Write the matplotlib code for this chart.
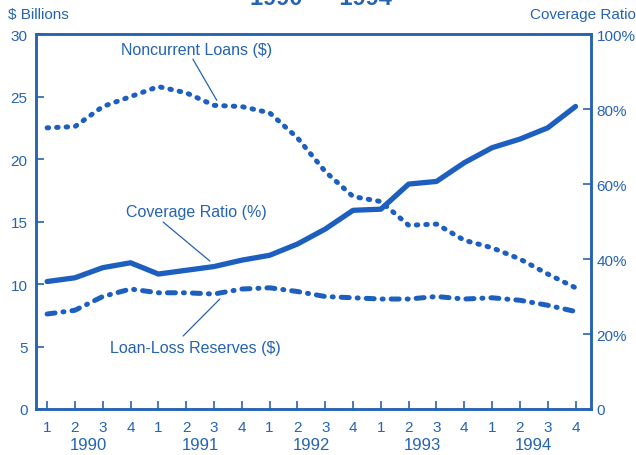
import matplotlib.pyplot as plt
import numpy as np

plt.rcParams['font.family'] = ['Liberation Sans', 'DejaVu Sans']

blue = '#2563b3'
line_blue = '#1d5fbf'

# quarters 1990 Q1 .. 1994 Q4
quarters = ['1', '2', '3', '4'] * 5
years = ['1990', '1991', '1992', '1993', '1994']

noncurrent = [22.5, 22.6, 24.2, 25.0, 25.8, 25.3, 24.3, 24.2, 23.7, 21.7,
              19.0, 17.0, 16.6, 14.7, 14.8, 13.5, 12.9, 12.0, 10.8, 9.7]
reserves = [7.6, 7.9, 9.0, 9.6, 9.3, 9.3, 9.2, 9.6, 9.7, 9.4,
            9.0, 8.9, 8.8, 8.8, 9.0, 8.8, 8.9, 8.7, 8.3, 7.8]
coverage = [34.0, 35.0, 37.7, 39.0, 36.0, 37.0, 38.0, 39.7, 41.0, 44.0,
            48.0, 53.0, 53.3, 60.0, 60.7, 65.7, 69.7, 72.0, 75.0, 80.7]

x = np.arange(1, len(quarters) + 1)

fig = plt.figure(figsize=(6.36, 4.56), dpi=100)
ax = fig.add_axes([0.0566, 0.1009, 0.8724, 0.8221])
ax2 = ax.twinx()

ax.plot(x, noncurrent, color=line_blue, lw=3.6, linestyle=(0, (0.3, 1.6)),
        dash_capstyle='round', solid_capstyle='round')
ax.plot(x, reserves, color=line_blue, lw=3.6, linestyle=(0, (1.6, 1.6, 0.2, 1.6)),
        dash_capstyle='round')
ax2.plot(x, coverage, color=line_blue, lw=3.8, solid_capstyle='round')

ax.set_xlim(0.6, 20.55)
ax.set_ylim(0, 30)
ax2.set_ylim(0, 100)

ax.set_yticks(range(0, 31, 5))
ax2.set_yticks(range(0, 101, 20))
ax2.set_yticklabels(['0', '20%', '40%', '60%', '80%', '100%'])
ax.set_xticks(x)
ax.set_xticklabels(quarters)

for a in (ax, ax2):
    for s in a.spines.values():
        s.set_color(blue)
        s.set_linewidth(1.8)
    a.tick_params(colors=blue, labelcolor=blue, labelsize=11, direction='in',
                  length=6, width=1.2)
ax.tick_params(axis='x', pad=8)
ax.tick_params(axis='y', pad=6)
ax2.tick_params(axis='y', pad=4)

for i, yr in enumerate(years):
    ax.text(2.5 + 4 * i, -0.074, yr, transform=ax.get_xaxis_transform(),
            ha='center', va='top', color=blue, fontsize=12)

fig.text(8 / 636, 1 - 15 / 456, '$ Billions', color=blue, fontsize=11,
         ha='left', va='center')
fig.text(1.0, 1 - 15 / 456, 'Coverage Ratio', color=blue, fontsize=11,
         ha='right', va='center')
fig.text(0.505, 1 - 5 / 456, '1990 — 1994', color=blue, fontsize=17,
         fontweight='bold', ha='center', va='baseline')

arrow = dict(arrowstyle='-', color=blue, lw=0.9, shrinkA=0, shrinkB=0)
ax.text(6.39, 28.8, 'Noncurrent Loans ($)', ha='center', va='center',
        color=blue, fontsize=11.5)
ax.annotate('', xy=(7.1, 24.7), xytext=(6.24, 28.0), arrowprops=arrow)
ax.text(6.35, 15.84, 'Coverage Ratio (%)', ha='center', va='center',
        color=blue, fontsize=11.5)
ax.annotate('', xy=(6.85, 11.84), xytext=(5.17, 14.96), arrowprops=arrow)
ax.text(6.32, 4.96, 'Loan-Loss Reserves ($)', ha='center', va='center',
        color=blue, fontsize=11.5)
ax.annotate('', xy=(7.21, 8.8), xytext=(5.89, 5.84), arrowprops=arrow)

fig.savefig('out.png', dpi=100)
